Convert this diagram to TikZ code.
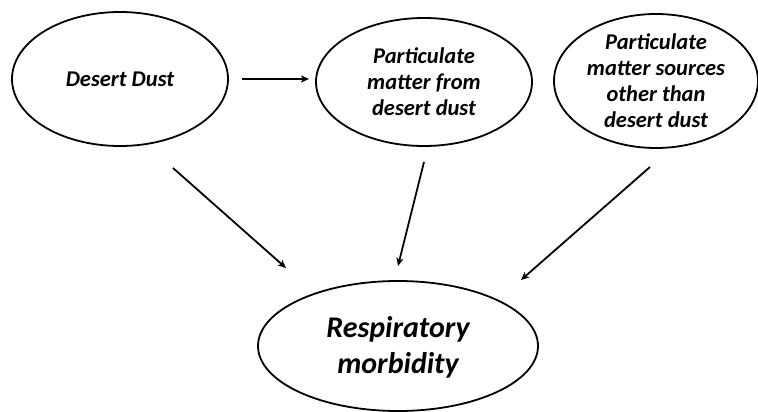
\documentclass[tikz,border=0pt]{standalone}
\usepackage{fontspec}
\setmainfont{Carlito}
\usetikzlibrary{shapes.geometric,arrows.meta}
\begin{document}
\begin{tikzpicture}[x=1pt,y=-1pt,
  oval/.style={ellipse,draw,line width=1.8pt,inner sep=0pt,align=center,
    font=\fontsize{22.5}{26}\selectfont\bfseries\itshape},
  bigoval/.style={oval,font=\fontsize{30}{36}\selectfont\bfseries\itshape},
  conn/.style={line width=1.8pt,-{Stealth[length=8pt,width=7pt,inset=2pt]}}]
\useasboundingbox (0,0) rectangle (758,412);
\node[oval,minimum width=216pt,minimum height=134pt] (dust) at (120,79) {Desert Dust};
\node[oval,minimum width=216pt,minimum height=128pt] (pmdd) at (424,82) {Particulate\\matter from\\desert dust};
\node[oval,minimum width=204pt,minimum height=134pt] (pmo) at (656,81) {Particulate\\matter sources\\other than\\desert dust};
\node[bigoval,minimum width=280pt,minimum height=130pt,text depth=2pt] (resp) at (398,346) {Respiratory\\morbidity};
\coordinate (h1) at (242,79);
\coordinate (h2) at (309,79);
\coordinate (a1s) at (173,168);
\coordinate (a1e) at (286,268);
\coordinate (a2s) at (424,162);
\coordinate (a2e) at (398,266);
\coordinate (a3s) at (650,167);
\coordinate (a3e) at (521,280);
\draw[conn] (h1) -- (h2);
\draw[conn] (a1s) -- (a1e);
\draw[conn] (a2s) -- (a2e);
\draw[conn] (a3s) -- (a3e);
\end{tikzpicture}
\end{document}
